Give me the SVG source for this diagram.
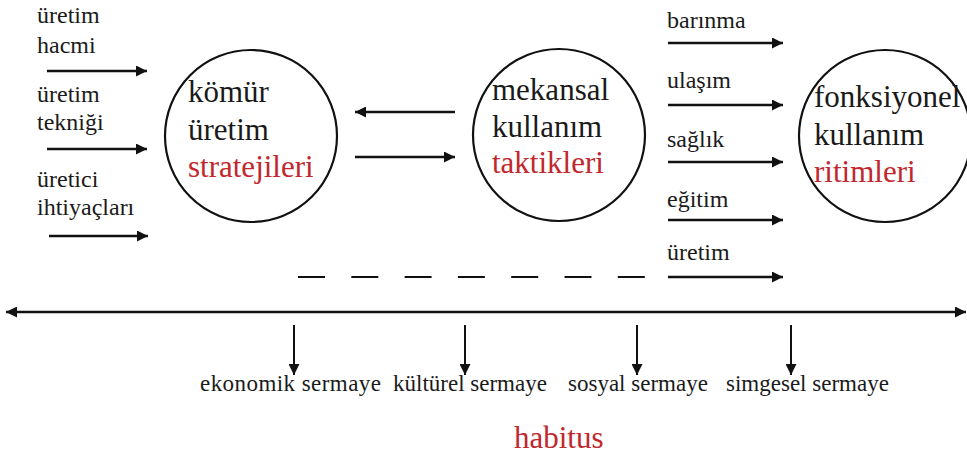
<svg xmlns="http://www.w3.org/2000/svg" width="967" height="460" viewBox="0 0 967 460" font-family="'Liberation Serif', 'Times New Roman', Times, 'DejaVu Serif', serif">
<defs>
<style>
text{font-family:'Liberation Serif','Times New Roman',Times,'DejaVu Serif',serif;fill:#1a1a1a}
.lbl{font-size:24px}
.big{font-size:31px}
.bot{font-size:23px}
.red{fill:#c1272d}
.node circle{fill:none;stroke:#111;stroke-width:2.2}
.ar{stroke:#111;stroke-width:2.5;fill:none;marker-end:url(#ah)}
.dn{stroke:#111;stroke-width:2;fill:none;marker-end:url(#ah)}
</style>
<marker id="ah" viewBox="0 0 10 10" refX="10" refY="5" markerWidth="11" markerHeight="11" markerUnits="userSpaceOnUse" orient="auto-start-reverse">
<path d="M0,0 L10,5 L0,10 z" fill="#111"/>
</marker>
</defs>
<rect width="967" height="460" fill="#fff"/>

<g id="inputs-left">
<text class="lbl" x="37" y="23">üretim</text>
<text class="lbl" x="37" y="53">hacmi</text>
<text class="lbl" x="37" y="102">üretim</text>
<text class="lbl" x="37" y="130">tekniği</text>
<text class="lbl" x="37" y="187">üretici</text>
<text class="lbl" x="37" y="215">ihtiyaçları</text>
</g>

<g id="node-komur" class="node">
<circle cx="251" cy="136" r="86"/>
<text class="big" x="188" y="102">kömür</text>
<text class="big" x="188" y="140">üretim</text>
<text class="big red" x="188" y="177">stratejileri</text>
</g>

<g id="node-mekansal" class="node">
<circle cx="559" cy="135" r="86"/>
<text class="big" x="492" y="100">mekansal</text>
<text class="big" x="492" y="137">kullanım</text>
<text class="big red" x="492" y="173">taktikleri</text>
</g>

<g id="node-fonksiyonel" class="node">
<circle cx="885" cy="136" r="86"/>
<text class="big" x="814" y="107">fonksiyonel</text>
<text class="big" x="814" y="145">kullanım</text>
<text class="big red" x="814" y="182">ritimleri</text>
</g>

<g id="inputs-right">
<text class="lbl" x="667" y="28">barınma</text>
<text class="lbl" x="667" y="88">ulaşım</text>
<text class="lbl" x="667" y="147">sağlık</text>
<text class="lbl" x="667" y="207">eğitim</text>
<text class="lbl" x="667" y="260">üretim</text>
</g>

<g id="capitals">
<text class="bot" x="200" y="391" textLength="181">ekonomik sermaye</text>
<text class="bot" x="393" y="391">kültürel sermaye</text>
<text class="bot" x="568" y="391">sosyal sermaye</text>
<text class="bot" x="726" y="391">simgesel sermaye</text>
</g>

<g id="habitus">
<text class="red" x="514" y="448" style="font-size:31px">habitus</text>
</g>

<g id="connectors">
<line class="ar" x1="47" y1="71" x2="147" y2="71"/>
<line class="ar" x1="47" y1="149" x2="147" y2="149"/>
<line class="ar" x1="49" y1="236" x2="148" y2="236"/>
<line class="ar" x1="455" y1="112" x2="355" y2="112"/>
<line class="ar" x1="355" y1="157" x2="455" y2="157"/>
<line class="ar" x1="668" y1="43" x2="783" y2="43"/>
<line class="ar" x1="668" y1="105" x2="783" y2="105"/>
<line class="ar" x1="668" y1="162" x2="783" y2="162"/>
<line class="ar" x1="668" y1="220" x2="783" y2="220"/>
<line class="ar" x1="668" y1="277" x2="783" y2="277"/>
<line x1="298" y1="277" x2="645" y2="277" stroke="#111" stroke-width="2.2" stroke-dasharray="27 26.3"/>
<line x1="6" y1="312" x2="966" y2="312" stroke="#111" stroke-width="2.5" marker-start="url(#ah)" marker-end="url(#ah)"/>
<line class="dn" x1="294" y1="325" x2="294" y2="375"/>
<line class="dn" x1="465" y1="325" x2="465" y2="375"/>
<line class="dn" x1="637" y1="325" x2="637" y2="375"/>
<line class="dn" x1="791" y1="325" x2="791" y2="375"/>
</g>
</svg>
